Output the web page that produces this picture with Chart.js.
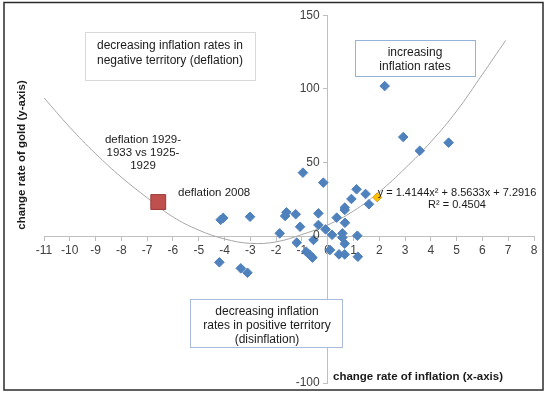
<!DOCTYPE html>
<html>
<head>
<meta charset="utf-8">
<script src="https://cdn.jsdelivr.net/npm/chart.js@4"></script>
<style>
  html, body { margin: 0; padding: 0; background: #fff; }
  canvas { display: block; }
</style>
</head>
<body>
<canvas id="chart" width="550" height="398"></canvas>
<script>
// change rate of inflation (x) vs change rate of gold (y)
const inflationX = [-0.96, -0.17, -4.15, -4.05, -3.01, -1.60, -1.65, -1.24, -0.36, -1.07,
  -0.36, -1.86, -0.08, 0.17, 0.35, 0.66, 0.66, 0.57, 0.57, 0.66,
  1.15, 0.92, 1.60, 1.12, 1.47, -1.20, -0.55, -0.83, -0.69, -0.59,
  0.09, 0.44, 0.66, 1.17, -4.20, -3.37, -3.11, 2.21, 2.93, 3.57,
  4.69, 0.67];
const goldY = [43.1, 36.3, 11.0, 12.3, 13.1, 16.1, 13.6, 14.8, 15.4, 6.3,
  7.5, 1.8, 4.5, 0.8, 12.5, 19.3, 17.7, 1.8, -1.1, -5.2,
  0.2, 25.2, 21.6, 31.8, 28.6, -4.5, -2.7, -10.7, -12.9, -14.7,
  -9.5, -12.5, -12.5, -14.1, -17.9, -22.0, -25.0, 102, 67.3, 58.0,
  63.5, 9.0];

// deflation 1929-1933 vs 1925-1929
const historicX = [-6.57];
const historicY = [23.1];

// highlighted latest value
const latestX = [1.92];
const latestY = [26.3];

// polynomial trendline
const trendX = [-11, -10, -9, -8, -7, -6, -5, -4, -3, -2, -1, 0, 1, 2, 3, 4, 5, 6, 6.9];
const trendY = [94, 74, 56, 40, 26, 13, 4, -2, -5, -4, 1, 7.5, 17, 30, 46, 64, 85, 110, 133];

const xTicks = [-11, -10, -9, -8, -7, -6, -5, -4, -3, -2, -1, 0, 1, 2, 3, 4, 5, 6, 7, 8];
const yTicks = [-100, -50, 0, 50, 100, 150];

const pts = (xs, ys) => xs.map((x, i) => ({ x: x, y: ys[i] }));

const FONT = "'Liberation Sans', Arial, sans-serif";

const notes = {
  id: 'notes',
  afterDraw(chart) {
    const ctx = chart.ctx;
    ctx.save();

    function box(x, y, w, h, stroke) {
      ctx.fillStyle = '#fff';
      ctx.fillRect(x, y, w, h);
      ctx.strokeStyle = stroke;
      ctx.lineWidth = 1;
      ctx.strokeRect(x, y, w, h);
    }
    function text(lines, x, y, dy, font, align, color) {
      ctx.font = font;
      ctx.fillStyle = color || '#1a1a1a';
      ctx.textAlign = align || 'center';
      ctx.textBaseline = 'middle';
      lines.forEach((s, i) => ctx.fillText(s, x, y + i * dy));
    }

    // y tick labels, left of the crossing axis
    const sx = chart.scales.x, sy = chart.scales.y;
    const axisX = sx.getPixelForValue(0);
    yTicks.forEach(v => {
      text([String(v)], axisX - 8, sy.getPixelForValue(v), 0, '12px ' + FONT, 'right', '#404040');
    });

    box(85.5, 32.5, 170, 48, '#d9d9d9');
    text(['decreasing inflation rates in', 'negative territory (deflation)'], 170, 46, 14.5, '12px ' + FONT);

    box(355.5, 40.5, 120, 36, '#95b3d7');
    text(['increasing', 'inflation rates'], 415, 53, 13.5, '12px ' + FONT);

    box(190.5, 299.5, 152, 48, '#a7bcdc');
    text(['decreasing inflation', 'rates in positive territory', '(disinflation)'], 267, 311.5, 14, '12px ' + FONT);

    text(['deflation 1929-', '1933 vs 1925-', '1929'], 143, 140, 12.7, '11.5px ' + FONT);
    text(['deflation 2008'], 178, 193, 0, '11.5px ' + FONT, 'left');

    text(['y = 1.4144x\u00b2 + 8.5633x + 7.2916', 'R\u00b2 = 0.4504'], 457, 192.5, 12, '11px ' + FONT);

    // axis titles
    text(['change rate of inflation (x-axis)'], 333, 377, 0, 'bold 11.5px ' + FONT, 'left');
    ctx.translate(22, 155);
    ctx.rotate(-Math.PI / 2);
    text(['change rate of gold (y-axis)'], 0, 0, 0, 'bold 11.5px ' + FONT);
    ctx.setTransform(1, 0, 0, 1, 0, 0);

    // outer frame
    ctx.strokeStyle = '#2b2b2b';
    ctx.lineWidth = 1.5;
    ctx.strokeRect(4, 2.5, 539, 387.5);
    ctx.restore();
  }
};

new Chart(document.getElementById('chart'), {
  type: 'scatter',
  data: {
    datasets: [
      {
        data: pts(latestX, latestY),
        pointStyle: 'rectRot',
        pointRadius: 4.5,
        backgroundColor: '#ffc000',
        borderColor: '#e39d00',
        borderWidth: 1
      },
      {
        data: pts(historicX, historicY),
        pointStyle: 'rect',
        pointRadius: 10.5,
        backgroundColor: '#c0504d',
        borderColor: '#9b3b38',
        borderWidth: 1
      },
      {
        data: pts(inflationX, goldY),
        pointStyle: 'rectRot',
        pointRadius: 4.8,
        backgroundColor: '#4f81bd',
        borderColor: '#4f81bd',
        borderWidth: 1
      },
      {
        type: 'line',
        data: pts(trendX, trendY),
        showLine: true,
        borderColor: '#a6a6a6',
        borderWidth: 1,
        pointRadius: 0,
        tension: 0.4,
        fill: false
      }
    ]
  },
  options: {
    responsive: false,
    animation: false,
    devicePixelRatio: 1,
    layout: { padding: { left: 44, right: 16, top: 15.5, bottom: 15 } },
    plugins: {
      legend: { display: false },
      tooltip: { enabled: false }
    },
    scales: {
      x: {
        type: 'linear',
        position: { y: 0 },
        min: -11,
        max: 8,
        afterBuildTicks: s => { s.ticks = xTicks.map(v => ({ value: v })); },
        ticks: { color: '#404040', font: { family: FONT, size: 12 }, padding: 3, maxRotation: 0, autoSkip: false },
        grid: { drawOnChartArea: false, drawTicks: true, tickLength: 4, color: '#bfbfbf' },
        border: { display: true, color: '#bfbfbf', width: 1 }
      },
      y: {
        type: 'linear',
        position: { x: 0 },
        min: -100,
        max: 150,
        afterBuildTicks: s => { s.ticks = yTicks.map(v => ({ value: v })); },
        ticks: { display: false },
        grid: { drawOnChartArea: false, drawTicks: true, tickLength: 4, color: '#bfbfbf' },
        border: { display: true, color: '#bfbfbf', width: 1 }
      }
    }
  },
  plugins: [notes]
});
</script>
</body>
</html>
